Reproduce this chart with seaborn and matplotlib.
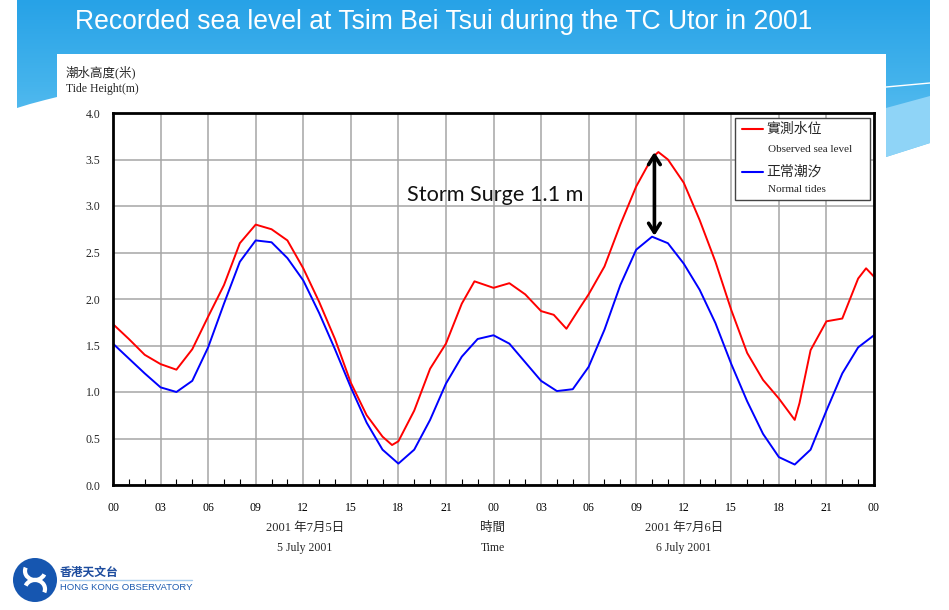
import numpy as np
import pandas as pd
import matplotlib
matplotlib.use("Agg")
import matplotlib.pyplot as plt
import seaborn as sns
from matplotlib.patches import Polygon, Rectangle, Circle, Arc
from matplotlib.colors import LinearSegmentedColormap

# ---------------- data ----------------
obs_hours = [0, 1, 2, 3, 4, 5, 6, 7, 8, 9, 10, 11, 12, 13, 14, 15, 16, 17, 17.6, 18,
             19, 20, 21, 22, 22.8, 24, 25, 26, 27, 27.8, 28.6, 29.5, 30, 31, 32, 33, 34, 34.4,
             35, 36, 37, 38, 39, 40, 41, 42, 43, 43.3, 44, 45, 46, 47, 47.5, 48]
obs_level = [1.73, 1.57, 1.40, 1.30, 1.24, 1.46, 1.81, 2.15, 2.60, 2.80, 2.75, 2.63, 2.33,
             1.97, 1.57, 1.10, 0.75, 0.52, 0.43, 0.47, 0.80, 1.25, 1.52, 1.95, 2.19, 2.12,
             2.17, 2.05, 1.87, 1.83, 1.68, 1.92, 2.05, 2.35, 2.80, 3.21, 3.52, 3.58, 3.50,
             3.25, 2.85, 2.40, 1.88, 1.42, 1.13, 0.93, 0.70, 0.88, 1.45, 1.76, 1.79, 2.22,
             2.33, 2.24]
tide_hours = list(range(49))
tide_level = [1.52, 1.36, 1.20, 1.05, 1.00, 1.12, 1.48, 1.95, 2.40, 2.63, 2.61, 2.44, 2.20,
              1.85, 1.46, 1.05, 0.67, 0.38, 0.23, 0.38, 0.70, 1.09, 1.38, 1.57, 1.61, 1.52,
              1.32, 1.12, 1.01, 1.03, 1.27, 1.67, 2.15, 2.53, 2.67, 2.60, 2.38, 2.10, 1.74,
              1.30, 0.90, 0.55, 0.30, 0.22, 0.38, 0.80, 1.20, 1.48, 1.61]
series_names = ["實測水位", "正常潮汐"]
series_names_en = ["Observed sea level", "Normal tides"]
xtick_hours = list(range(0, 49, 3))
xtick_labels = ["00", "03", "06", "09", "12", "15", "18", "21",
                "00", "03", "06", "09", "12", "15", "18", "21", "00"]
ytick_values = [0.0, 0.5, 1.0, 1.5, 2.0, 2.5, 3.0, 3.5, 4.0]
surge_x, surge_top, surge_bottom = 34.15, 3.58, 2.68

df = pd.concat([
    pd.DataFrame({"hour": obs_hours, "level": obs_level, "series": series_names[0]}),
    pd.DataFrame({"hour": tide_hours, "level": tide_level, "series": series_names[1]}),
], ignore_index=True)

sns.set_theme(style="white")
plt.rcParams["font.family"] = ["Liberation Serif", "Noto Sans CJK TC", "DejaVu Sans"]
CJK_SERIF = ["Liberation Serif", "Noto Sans CJK TC", "DejaVu Sans"]

W, H = 949, 610
fig = plt.figure(figsize=(W / 100, H / 100), dpi=100)
fig.patch.set_facecolor("white")

# ---------------- slide background ----------------
bg = fig.add_axes([0, 0, 1, 1], zorder=0)
bg.set_xlim(0, W); bg.set_ylim(H, 0); bg.axis("off")
grad = np.linspace(0, 1, 256).reshape(-1, 1)
cmap = LinearSegmentedColormap.from_list("hdr", ["#27a2e7", "#44b3ec", "#6cc6f3"])
im = bg.imshow(grad, extent=[0, W, 165, 0], cmap=cmap, aspect="auto", zorder=1)
clip = Polygon([(17, 0), (930, 0), (930, 143), (886, 157), (886, 54), (57, 54), (57, 97),
                (45, 100), (30, 104), (17, 108)], closed=True, transform=bg.transData,
               fill=False, lw=0)
bg.add_patch(clip)
im.set_clip_path(clip)
bg.add_patch(Polygon([(886, 108), (930, 96), (930, 143), (886, 157)], closed=True,
                     facecolor="#8fd4f7", edgecolor="none", zorder=2))
bg.plot([886, 930], [87, 83], color="white", lw=1.0, zorder=3)
bg.add_patch(Rectangle((57, 54), 829, H - 54, facecolor="white", edgecolor="none", zorder=4))

# ---------------- main chart ----------------
ax = fig.add_axes([113 / W, 1 - 485 / H, 761 / W, 372 / H], zorder=2)
ax.set_facecolor("white")
sns.lineplot(data=df, x="hour", y="level", hue="series",
             palette={series_names[0]: "#ff0000", series_names[1]: "#0000ff"},
             ax=ax, legend=False, linewidth=1.4, sort=True, estimator=None)
ax.set_xlim(0, 48)
ax.set_ylim(0, 4)
ax.set_xticks(xtick_hours)
ax.set_xticklabels(xtick_labels)
ax.set_xticks(range(49), minor=True)
ax.set_yticks(ytick_values)
ax.set_yticklabels([f"{v:.1f}" for v in ytick_values])
ax.grid(True, which="major", color="#a6a6a6", lw=1.1)
ax.set_axisbelow(True)
ax.tick_params(axis="x", which="major", direction="in", length=0, pad=12,
               labelsize=8.5, colors="black")
ax.tick_params(axis="x", which="minor", direction="in", length=4, width=0.8,
               bottom=True, top=False, colors="black")
ax.tick_params(axis="y", which="major", length=0, pad=9, labelsize=8.5)
for lab in ax.get_xticklabels() + ax.get_yticklabels():
    lab.set_family("Liberation Serif")
ax.set_xlabel(""); ax.set_ylabel("")
for s in ax.spines.values():
    s.set_visible(True)
    s.set_color("black")
    s.set_linewidth(2.0)

ax.annotate("", xy=(surge_x, surge_bottom), xytext=(surge_x, surge_top),
            arrowprops=dict(arrowstyle="<->,head_length=0.55,head_width=0.35",
                            lw=2.6, color="black", shrinkA=0, shrinkB=0), zorder=5)

# ---------------- overlay texts ----------------
ov = fig.add_axes([0, 0, 1, 1], zorder=3)
ov.set_xlim(0, W); ov.set_ylim(H, 0); ov.axis("off"); ov.patch.set_alpha(0)

ov.text(75, 22, "Recorded sea level at Tsim Bei Tsui during the TC Utor in 2001",
        color="white", fontsize=19.1, family="Liberation Sans", va="center", ha="left")

ov.text(66, 72, "潮水高度(米)", fontsize=9, family=CJK_SERIF, va="center", ha="left")
ov.text(66, 89, "Tide Height(m)", fontsize=8.5, family="Liberation Serif", va="center", ha="left")

for cx, zh, en in [(305, "2001 年7月5日", "5 July 2001"), (493, "時間", "Time"),
                   (684, "2001 年7月6日", "6 July 2001")]:
    ov.text(cx, 528, zh, fontsize=9, family=CJK_SERIF, va="center", ha="center")
    ov.text(cx, 548, en, fontsize=8.5, family="Liberation Serif", va="center", ha="center")

ov.text(407, 195, "Storm Surge 1.1 m", fontsize=15.6, family="Lato", va="center", ha="left",
        color="#111111")

# legend box
ov.add_patch(Rectangle((735, 118), 135, 82, facecolor="white", edgecolor="#444444", lw=1.0,
                       zorder=5))
ov.plot([742, 763], [129, 129], color="#ff0000", lw=1.5, zorder=6)
ov.plot([742, 763], [172, 172], color="#0000ff", lw=1.5, zorder=6)
ov.text(766, 129, series_names[0], fontsize=10, family=CJK_SERIF, va="center", ha="left", zorder=6)
ov.text(768, 150, series_names_en[0], fontsize=8, family="Liberation Serif", va="center",
        ha="left", zorder=6)
ov.text(766, 172, series_names[1], fontsize=10, family=CJK_SERIF, va="center", ha="left", zorder=6)
ov.text(768, 189, series_names_en[1], fontsize=8, family="Liberation Serif", va="center",
        ha="left", zorder=6)

# logo
ov.add_patch(Circle((35, 580), 22, facecolor="#1656b0", edgecolor="none", zorder=5))
ov.add_patch(Arc((35, 571), 20, 18, theta1=20, theta2=200, color="white", lw=3, zorder=6))
ov.add_patch(Arc((35, 589), 20, 18, theta1=200, theta2=380, color="white", lw=3, zorder=6))
ov.text(60, 572, "香港天文台", fontsize=8.5, family="Noto Sans CJK TC", weight="bold",
        color="#1d4c9e", va="center", ha="left")
ov.plot([60, 192], [580, 580], color="#a9cdef", lw=1.0)
ov.text(60, 587.5, "HONG KONG OBSERVATORY", fontsize=6.8, family="Liberation Sans",
        color="#1d5bb0", va="center", ha="left")

fig.savefig("out.png", dpi=100, facecolor="white")
